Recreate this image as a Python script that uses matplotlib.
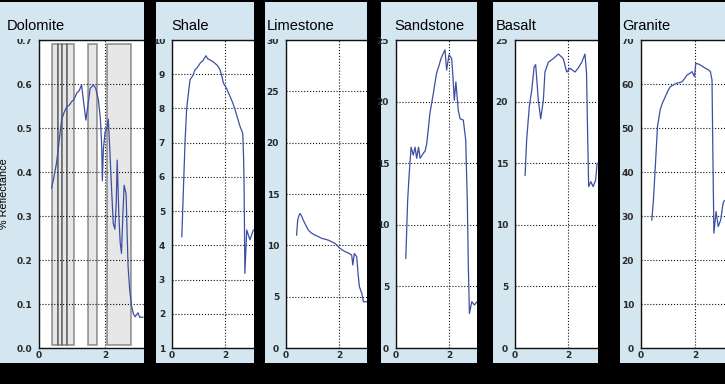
import matplotlib
matplotlib.use("Agg")
import matplotlib.pyplot as plt
from matplotlib.patches import Rectangle
from matplotlib.ticker import FormatStrFormatter

# Spectral reflectance curves (wavelength in um, reflectance)
dolomite_wl = [0.38, 0.43, 0.48, 0.53, 0.59, 0.64, 0.69, 0.76, 0.84, 0.92, 0.99, 1.06, 1.14, 1.22, 1.29,
               1.35, 1.42, 1.48, 1.55, 1.65, 1.72, 1.80, 1.86, 1.90, 1.92, 1.95, 2.00, 2.06, 2.10, 2.14,
               2.20, 2.25, 2.30, 2.34, 2.37, 2.42, 2.46, 2.50, 2.54, 2.58, 2.64, 2.67, 2.70, 2.75, 2.81,
               2.86, 2.91, 2.96, 3.00, 3.05, 3.15]
dolomite_refl = [0.364, 0.38, 0.40, 0.42, 0.457, 0.49, 0.52, 0.535, 0.548, 0.552, 0.56, 0.565, 0.579, 0.585, 0.598,
                 0.56, 0.518, 0.55, 0.59, 0.598, 0.59, 0.564, 0.52, 0.46, 0.38, 0.45, 0.49, 0.50, 0.52, 0.46,
                 0.36, 0.283, 0.27, 0.33, 0.427, 0.30, 0.24, 0.215, 0.30, 0.37, 0.35, 0.26, 0.185, 0.13, 0.094,
                 0.078, 0.071, 0.076, 0.08, 0.07, 0.07]
band_edges = [(0.40, 0.57), (0.57, 0.71), (0.71, 0.84), (0.84, 1.06), (1.49, 1.75), (2.07, 2.78)]

shale_wl = [0.37, 0.43, 0.49, 0.55, 0.62, 0.68, 0.78, 0.87, 0.96, 1.06, 1.17, 1.28, 1.35, 1.43, 1.52, 1.62,
            1.72, 1.81, 1.88, 1.94, 2.05, 2.19, 2.30, 2.38, 2.48, 2.57, 2.67, 2.70, 2.72, 2.75, 2.82, 2.94, 3.07]
shale_refl = [4.25, 5.62, 6.98, 7.96, 8.45, 8.84, 8.95, 9.13, 9.20, 9.32, 9.40, 9.54, 9.45, 9.42, 9.38, 9.32,
              9.25, 9.13, 8.95, 8.74, 8.60, 8.35, 8.15, 7.96, 7.70, 7.47, 7.27, 6.60, 5.80, 3.18, 4.45, 4.16, 4.45]

limestone_wl = [0.40, 0.44, 0.49, 0.53, 0.58, 0.65, 0.74, 0.84, 0.96, 1.09, 1.22, 1.35, 1.47, 1.60, 1.72,
                1.85, 1.95, 2.04, 2.13, 2.23, 2.31, 2.39, 2.48, 2.52, 2.58, 2.67, 2.72, 2.77, 2.86, 2.92, 3.04]
limestone_refl = [11.0, 12.46, 12.9, 13.1, 12.9, 12.46, 12.0, 11.49, 11.2, 11.0, 10.85, 10.68, 10.6, 10.5, 10.35,
                  10.19, 9.95, 9.7, 9.55, 9.38, 9.3, 9.2, 9.04, 8.08, 9.2, 8.89, 7.2, 5.97, 5.32, 4.5, 4.5]

sandstone_wl = [0.37, 0.40, 0.44, 0.50, 0.57, 0.65, 0.72, 0.78, 0.85, 0.91, 1.03, 1.10, 1.16, 1.22, 1.28,
                1.34, 1.41, 1.47, 1.53, 1.62, 1.70, 1.78, 1.85, 1.91, 2.00, 2.10, 2.15, 2.20, 2.26, 2.35,
                2.42, 2.54, 2.63, 2.69, 2.73, 2.77, 2.86, 2.96, 3.06]
sandstone_refl = [7.28, 9.3, 12.0, 14.2, 16.3, 15.66, 16.3, 15.4, 16.3, 15.4, 15.8, 16.0, 16.6, 17.8, 19.05,
                  19.8, 20.67, 21.5, 22.3, 22.9, 23.5, 23.9, 24.2, 22.56, 23.8, 23.5, 22.0, 20.1, 21.6, 19.3,
                  18.6, 18.5, 16.9, 12.0, 6.6, 2.8, 3.76, 3.49, 3.76]

basalt_wl = [0.38, 0.44, 0.54, 0.63, 0.72, 0.78, 0.88, 0.97, 1.07, 1.13, 1.26, 1.45, 1.64, 1.82, 1.95,
             2.08, 2.26, 2.38, 2.52, 2.64, 2.70, 2.74, 2.78, 2.86, 2.95, 3.04, 3.10]
basalt_refl = [14.0, 16.9, 19.6, 20.9, 22.8, 23.0, 20.1, 18.6, 20.1, 22.4, 23.2, 23.5, 23.86, 23.5, 22.4,
               22.7, 22.4, 22.7, 23.2, 23.86, 22.3, 17.4, 13.1, 13.5, 13.1, 13.6, 15.0]

granite_wl = [0.40, 0.46, 0.53, 0.61, 0.71, 0.80, 0.90, 1.00, 1.09, 1.20, 1.33, 1.42, 1.52, 1.61, 1.70,
              1.80, 1.89, 1.98, 2.03, 2.10, 2.20, 2.38, 2.50, 2.57, 2.63, 2.66, 2.70, 2.78, 2.86, 2.95, 3.04, 3.09]
granite_refl = [29.1, 33.6, 41.2, 50.3, 54.1, 55.8, 57.1, 58.5, 59.4, 59.8, 60.2, 60.3, 60.5, 61.2, 62.0,
                62.4, 62.8, 61.7, 64.7, 64.6, 64.3, 63.6, 63.2, 62.8, 60.9, 45.0, 26.1, 31.0, 27.6, 29.1, 32.9, 33.5]

names = ["Dolomite", "Shale", "Limestone", "Sandstone", "Basalt", "Granite"]
curves = [(dolomite_wl, dolomite_refl), (shale_wl, shale_refl), (limestone_wl, limestone_refl),
          (sandstone_wl, sandstone_refl), (basalt_wl, basalt_refl), (granite_wl, granite_refl)]
ylims = [(0, 0.7), (1, 10), (0, 30), (0, 25), (0, 25), (0, 70)]
ysteps = [0.1, 1, 5, 5, 5, 10]

# layout in pixels: panel left, panel right, axes left, px per x unit, title x
layout = [(0, 144, 39, 33.0, 7), (156, 254, 172, 26.5, 171), (265, 367, 286, 26.5, 267),
          (381, 477, 396, 26.5, 394), (493, 598, 515, 26.5, 496), (620, 725, 641, 27.0, 622)]

W, H = 725, 384
PANEL_TOP, PANEL_BOT = 2, 363
AX_TOP, AX_BOT = 40, 348
COVER_BOT = 38.5
BG = "#d4e6ef"
LINE = "#3d4fa3"

fig = plt.figure(figsize=(W / 100, H / 100), dpi=100, facecolor="black")


def fx(px):
    return px / W


def fy(py):
    return 1 - py / H


for i, name in enumerate(names):
    pl, pr, al, ppu, tx = layout[i]

    bg = fig.add_axes([fx(pl), fy(PANEL_BOT), fx(pr - pl), (PANEL_BOT - PANEL_TOP) / H], zorder=0)
    bg.set_facecolor(BG)
    bg.set_xticks([])
    bg.set_yticks([])
    for s in bg.spines.values():
        s.set_visible(False)

    ax = fig.add_axes([fx(al), fy(AX_BOT), fx(pr - al), (AX_BOT - AX_TOP) / H], zorder=1)
    ax.set_facecolor("white")
    wl, refl = curves[i]
    ax.plot(wl, refl, color=LINE, lw=0.9, zorder=3)

    if i == 0:
        for x0, x1 in band_edges:
            ax.add_patch(Rectangle((x0, 0.007), x1 - x0, 0.683, facecolor="#d0d0d0", alpha=0.5,
                                   edgecolor="#333333", lw=1.2, zorder=1))

    y0, y1 = ylims[i]
    ax.set_xlim(0, (pr - al) / ppu)
    ax.set_ylim(y0, y1)
    nt = int(round((y1 - y0) / ysteps[i]))
    ax.set_yticks([y0 + k * ysteps[i] for k in range(nt + 1)])
    ax.set_xticks([0, 2])
    if i == 0:
        ax.yaxis.set_major_formatter(FormatStrFormatter("%.1f"))
    ax.grid(True, color="#111111", linestyle=":", lw=0.8)
    ax.tick_params(length=0, labelsize=6.5, labelcolor="#2a2a2a", pad=5)
    ax.tick_params(axis="x", pad=2)
    for t in ax.get_xticklabels() + ax.get_yticklabels():
        t.set_fontweight("bold")
    ax.spines["right"].set_visible(False)
    for s in ["left", "top", "bottom"]:
        ax.spines[s].set_linewidth(1.0)
        ax.spines[s].set_color("#111111")

    # band covering the panel header (hides the top tick label partly)
    cover = fig.add_axes([fx(pl), fy(COVER_BOT), fx(pr - pl), (COVER_BOT - PANEL_TOP) / H], zorder=2)
    cover.set_facecolor(BG)
    cover.set_xticks([])
    cover.set_yticks([])
    for s in cover.spines.values():
        s.set_visible(False)
    fig.text(fx(tx), fy(26), name, fontsize=10.5, family="Liberation Sans", color="black",
             ha="left", va="center", zorder=5)

fig.text(fx(4), fy(194), "% Reflectance", rotation=90, fontsize=7.8, family="Liberation Sans",
         ha="center", va="center", zorder=5)

fig.savefig("out.png", dpi=100, facecolor="black")
